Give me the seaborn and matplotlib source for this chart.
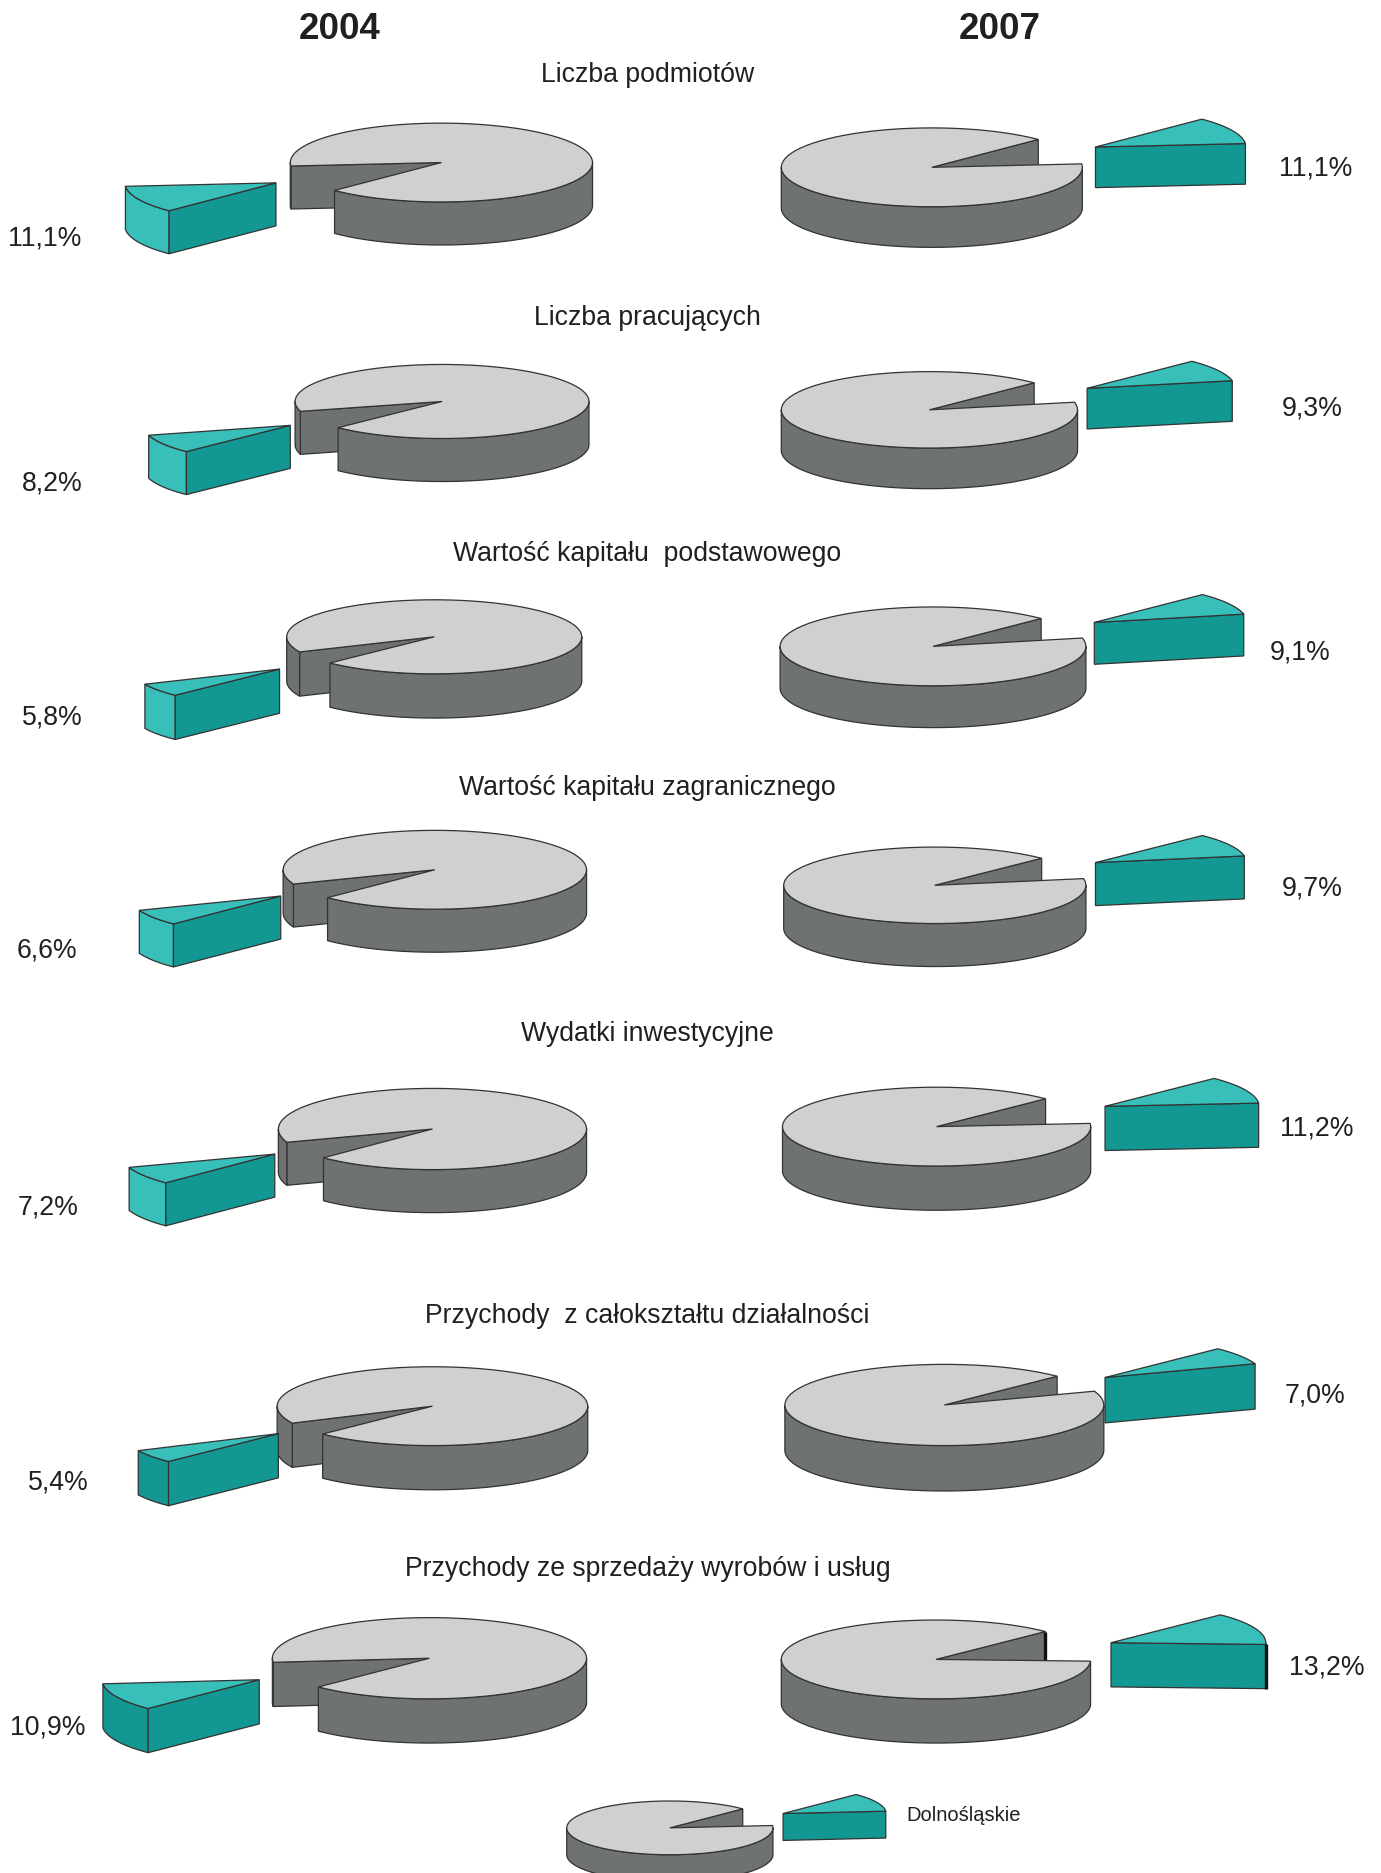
# 3D pies: share of Dolnoslaskie, 2004 vs 2007

import numpy as np
import seaborn as sns
import matplotlib.pyplot as plt
from matplotlib.patches import Polygon

# Data
years = ['2004', '2007']
categories = ['Liczba podmiotów', 'Liczba pracujących', 'Wartość kapitału  podstawowego',
              'Wartość kapitału zagranicznego', 'Wydatki inwestycyjne',
              'Przychody  z całokształtu działalności', 'Przychody ze sprzedaży wyrobów i usług']
share_2004 = [11.1, 8.2, 5.8, 6.6, 7.2, 5.4, 10.9]
share_2007 = [11.1, 9.3, 9.1, 9.7, 11.2, 7.0, 13.2]
legend_label = 'Dolnośląskie'
legend_share = 11.1

# Layout, in pixels of the 1156 wide view: left, right, centre y, top, bottom, slice tip x, y
S = 1381 / 1156
layout_2004 = [(243, 496, 136, 103, 205, 231, 153), (247, 493, 336, 305, 403, 243, 356),
               (240, 487, 533, 502, 601, 234, 560), (237, 491, 728, 695, 797, 235, 750),
               (233, 491, 945, 911, 1015, 230, 966), (232, 492, 1177, 1144, 1247, 233, 1200),
               (228, 491, 1388, 1354, 1459, 217, 1406)]
layout_2007 = [(654, 906, 140, 107, 207, 917, 123), (654, 902, 343, 311, 409, 910, 325),
               (653, 909, 541, 508, 609, 916, 521), (656, 909, 741, 709, 809, 917, 722),
               (655, 913, 943, 910, 1013, 925, 926), (657, 924, 1176, 1142, 1248, 925, 1153),
               (654, 913, 1389, 1356, 1459, 930, 1375)]
layout_legend = (474.4, 647, 1530, 1507.5, 1575, 655.5, 1518)
title_y = [62.5, 266.5, 463.5, 659.5, 865.5, 1101.5, 1313.5]
label_2004 = [(37, 200), (44, 405), (44, 601), (39, 796), (40, 1011), (49, 1241), (40, 1446)]
label_2007 = [(1101, 141), (1098, 342), (1088, 546), (1098, 744), (1102, 945), (1101, 1168), (1111, 1396)]

GREY_TOP, GREY_SIDE = '#d0d0d0', '#6f7272'
TEAL_TOP, TEAL_SIDE = '#38bfba', '#139793'
EDGE = '#333333'
TEXT = '#231f20'
DOWN = 1.0 * S  # everything sat a touch high

sns.set_theme(style='white')
plt.rcParams['font.family'] = ['Liberation Sans', 'DejaVu Sans']

fig = plt.figure(figsize=(13.81, 18.74), dpi=100)
ax = fig.add_axes([0, 0, 1, 1])
ax.set_xlim(0, 1381)
ax.set_ylim(1874, 0)
ax.axis('off')


def poly(pts, color, z=1):
    ax.add_patch(Polygon(pts, closed=True, facecolor=color, edgecolor=EDGE, linewidth=0.9, zorder=z))


def arc(cx, cy, rx, ry, t1, t2):
    t = np.radians(np.linspace(t1, t2, 80))
    return np.column_stack([cx + rx * np.cos(t), cy + ry * np.sin(t)])


def side(cx, cy, rx, ry, d, t1, t2, color, z):
    # outer wall, only the part facing the viewer (0-180 deg)
    t1, t2 = max(t1, 0), min(t2, 180)
    if t2 <= t1:
        return
    a = arc(cx, cy, rx, ry, t1, t2)
    b = a[::-1] + [0, d]
    poly(np.vstack([a, b]), color, z=z)


def pie3d(box, t1, t2, slice_side=TEAL_TOP, thick=False):
    # the slice covers angles t1-t2, angles run clockwise on screen
    left, right, cy, top, bottom, tip_x, tip_y = [v * S for v in box]
    cy, tip_y = cy + DOWN * 0.9, tip_y + DOWN * 0.9
    cx = (left + right) / 2
    rx = (right - left) / 2
    ry = box[2] * S - top
    d = bottom - top - 2 * ry

    # inner wall of the gap
    inner = t2 if t1 > 90 else t1
    p = arc(cx, cy, rx, ry, inner, inner)[0]
    poly([(cx, cy), p, p + [0, d], (cx, cy + d)], GREY_SIDE, z=1)
    if thick:
        ax.plot([p[0], p[0]], [p[1], cy + ry * 0.02], color='#111111', lw=2.4, zorder=2, solid_capstyle='butt')
    # outer wall and top of the big part
    side(cx, cy, rx, ry, d, t2, t1 + 360, GREY_SIDE, 2)
    side(cx, cy, rx, ry, d, t2 - 360, t1, GREY_SIDE, 2)
    poly(np.vstack([[(cx, cy)], arc(cx, cy, rx, ry, t2, t1 + 360)]), GREY_TOP, z=3)

    # pulled out slice
    front = t1 if t1 > 90 else t2
    p = arc(tip_x, tip_y, rx, ry, front, front)[0]
    side(tip_x, tip_y, rx, ry, d, t1, t2, slice_side, 4)
    poly([(tip_x, tip_y), p, p + [0, d], (tip_x, tip_y + d)], TEAL_SIDE, z=5)
    poly(np.vstack([[(tip_x, tip_y)], arc(tip_x, tip_y, rx, ry, t1, t2)]), TEAL_TOP, z=6)
    if thick:
        ax.plot([p[0], p[0]], [p[1], p[1] + d], color='#111111', lw=2.4, zorder=7, solid_capstyle='butt')


for i in range(len(categories)):
    v4, v7 = share_2004[i], share_2007[i]
    # 2004 slices start from the lower left, 2007 from the upper right
    pie3d(layout_2004[i], 135, 135 + 3.6 * v4, slice_side=TEAL_SIDE if i >= 5 else TEAL_TOP)
    pie3d(layout_2007[i], -45, -45 + 3.6 * v7, thick=(i == 6))

    ax.text(542 * S, title_y[i] * S, categories[i], ha='center', va='center', fontsize=19.2, color=TEXT)
    ax.text(label_2004[i][0] * S, label_2004[i][1] * S, f'{v4:.1f}%'.replace('.', ','),
            ha='center', va='center', fontsize=19.2, color=TEXT)
    ax.text(label_2007[i][0] * S, label_2007[i][1] * S, f'{v7:.1f}%'.replace('.', ','),
            ha='center', va='center', fontsize=19.2, color=TEXT)

pie3d(layout_legend, -45, -45 + 3.6 * legend_share)
ax.text(806.5 * S, 1520 * S, legend_label, ha='center', va='center', fontsize=14.5, color=TEXT)

ax.text(284.5 * S, 24.5 * S, years[0], ha='center', va='center', fontsize=26.5, fontweight='bold', color=TEXT)
ax.text(836.5 * S, 24.5 * S, years[1], ha='center', va='center', fontsize=26.5, fontweight='bold', color=TEXT)

fig.savefig('out.png', dpi=100, facecolor='white')
